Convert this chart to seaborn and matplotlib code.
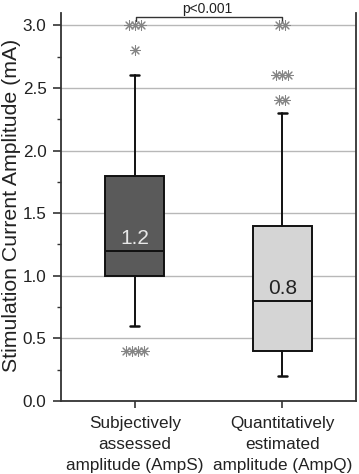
import numpy as np
import pandas as pd
import seaborn as sns
import matplotlib
matplotlib.use("Agg")
import matplotlib.pyplot as plt
from matplotlib.ticker import MultipleLocator

# box summary values (mA)
groups = ["Subjectively\nassessed\namplitude (AmpS)", "Quantitatively\nestimated\namplitude (AmpQ)"]
q1 = [1.0, 0.4]
medians = [1.2, 0.8]
q3 = [1.8, 1.4]
whis_lo = [0.6, 0.2]
whis_hi = [2.6, 2.3]
outliers_s = [0.4, 0.4, 0.4, 0.4, 2.8, 3.0, 3.0, 3.0]
outliers_q = [2.4, 2.4, 2.6, 2.6, 2.6, 3.0, 3.0]
median_labels = ["1.2", "0.8"]

box_colors = ["#5a5a5a", "#d5d5d5"]
label_colors = ["#e8e8e8", "#222222"]

sns.set_theme(style="ticks")
plt.rcParams["font.family"] = ["Liberation Sans", "DejaVu Sans"]

fig = plt.figure(figsize=(3.59, 4.74), dpi=100)
ax = fig.add_axes([0.170, 0.154, 0.822, 0.819])

# horizontal grid first so it sits behind boxes
ax.set_axisbelow(True)
ax.yaxis.grid(True, color="#b8b8b8", lw=1.0)

stats = []
for i in range(2):
    stats.append({"label": groups[i], "q1": q1[i], "med": medians[i], "q3": q3[i],
                  "whislo": whis_lo[i], "whishi": whis_hi[i], "fliers": []})

bp = ax.bxp(stats, positions=[0, 1], widths=0.4, patch_artist=True, showfliers=False,
            capwidths=[0.06, 0.06],
            boxprops=dict(edgecolor="#111111", linewidth=1.4),
            medianprops=dict(color="#111111", linewidth=1.4),
            whiskerprops=dict(color="#111111", linewidth=1.4),
            capprops=dict(color="#111111", linewidth=1.8))
for patch, c in zip(bp["boxes"], box_colors):
    patch.set_facecolor(c)

# outliers: repeated values are spread side by side
rows = []
for pos, vals in [(0, outliers_s), (1, outliers_q)]:
    vals = np.array(vals)
    for v in np.unique(vals):
        n = int((vals == v).sum())
        offs = (np.arange(n) - (n - 1) / 2) * 0.04
        for o in offs:
            rows.append({"x": pos + o, "y": v})
df_out = pd.DataFrame(rows)
sns.scatterplot(data=df_out, x="x", y="y", ax=ax, marker=(8, 2, 0), s=50,
                color="#858585", linewidth=0.75, legend=False, zorder=3)

for i in range(2):
    ax.text(i, medians[i] + 0.02, median_labels[i], ha="center", va="bottom",
            fontsize=15, color=label_colors[i])

# significance bracket
yb = 3.065
ax.plot([0.01, 0.01, 1.0, 1.0], [3.035, yb, yb, 3.03], color="#333333", lw=1.0,
        clip_on=False)
ax.text(0.49, yb + 0.012, "p<0.001", ha="center", va="bottom", fontsize=10,
        color="#222222", clip_on=False)

ax.set_xlim(-0.5, 1.5)
ax.set_ylim(0, 3.1)
ax.set_xticks([0, 1])
ax.set_xticklabels(groups, fontsize=12.3, color="#222222", linespacing=1.5)
ax.set_yticks(np.arange(0, 3.01, 0.5))
ax.set_yticklabels([f"{v:.1f}" for v in np.arange(0, 3.01, 0.5)], fontsize=12.3,
                   color="#222222")
ax.yaxis.set_minor_locator(MultipleLocator(0.25))
ax.tick_params(axis="y", which="major", length=6, width=1.2, color="#333333", pad=4.5)
ax.tick_params(axis="y", which="minor", length=3, width=1.0, color="#333333")
ax.tick_params(axis="x", length=5, width=1.2, color="#333333", pad=6)
ax.set_xlabel("")
ax.set_ylabel("Stimulation Current Amplitude (mA)", fontsize=15.3, color="#222222")
ax.yaxis.set_label_coords(-0.136, 0.505)

for side in ["left", "bottom", "right"]:
    ax.spines[side].set_visible(True)
    ax.spines[side].set_color("#333333")
    ax.spines[side].set_linewidth(1.3)
ax.spines["top"].set_visible(False)

fig.savefig("out.png", dpi=100)
